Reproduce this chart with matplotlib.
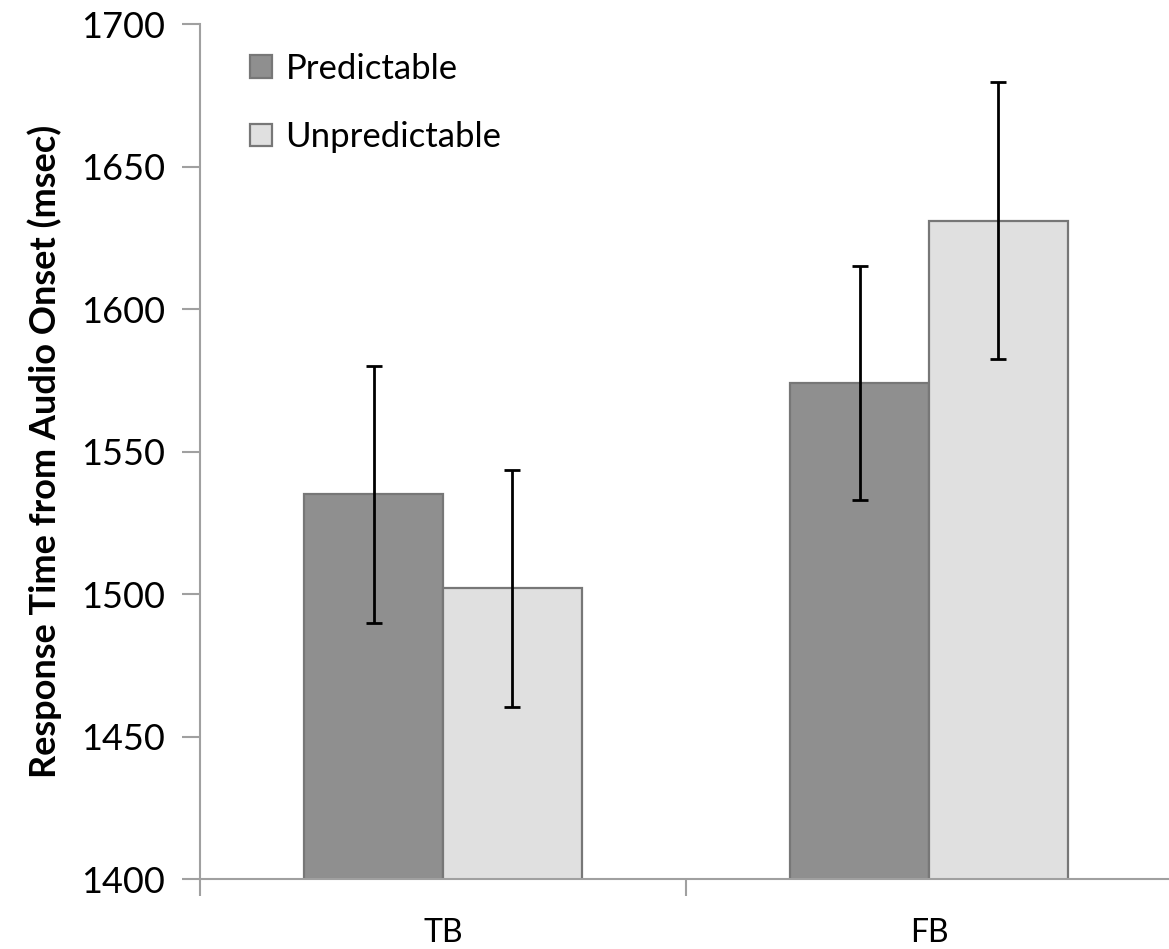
import matplotlib
matplotlib.use("Agg")
import matplotlib.pyplot as plt
import numpy as np
from matplotlib.patches import Patch

categories = ["TB", "FB"]
series_names = ["Predictable", "Unpredictable"]
predictable = [1535, 1574]
unpredictable = [1502, 1631]
predictable_err = [45, 41]
unpredictable_err = [41.5, 48.5]
yticks = [1400, 1450, 1500, 1550, 1600, 1650, 1700]

plt.rcParams['font.family'] = ['Lato', 'DejaVu Sans']

fig = plt.figure(figsize=(11.69, 9.49), dpi=100)
ax = fig.add_axes([200/1169, 70/949, 972/1169, 855/949])

x = np.arange(len(categories))
w = 0.286
c_pred = "#8f8f8f"
c_unpred = "#e0e0e0"
edge = "#777777"
ax.bar(x - w/2, predictable, w, color=c_pred, edgecolor=edge, linewidth=1.6, zorder=2)
ax.bar(x + w/2, unpredictable, w, color=c_unpred, edgecolor=edge, linewidth=1.6, zorder=2)
ax.errorbar(x - w/2, predictable, yerr=predictable_err, fmt='none', ecolor='black',
            elinewidth=2.0, capsize=6, capthick=2.0, zorder=3)
ax.errorbar(x + w/2, unpredictable, yerr=unpredictable_err, fmt='none', ecolor='black',
            elinewidth=2.0, capsize=6, capthick=2.0, zorder=3)

ax.set_ylim(1400, 1700)
ax.set_xlim(-0.5, 1.5)
ax.set_yticks(yticks)
ax.set_yticklabels([str(v) for v in yticks], fontsize=26)

ax.set_xticks([-0.5, 0.5, 1.5])
ax.set_xticklabels([])
ax.set_xticks(x, minor=True)
ax.set_xticklabels(categories, minor=True, fontsize=23)
ax.tick_params(axis='x', which='minor', length=0, pad=28)
ax.tick_params(axis='x', which='major', length=12, width=1.5, color='#a0a0a0')
ax.tick_params(axis='y', length=13, width=1.5, color='#a0a0a0', pad=12)

for s in ['top', 'right']:
    ax.spines[s].set_visible(False)
for s in ['left', 'bottom']:
    ax.spines[s].set_color('#a0a0a0')
    ax.spines[s].set_linewidth(1.5)

ax.set_ylabel("Response Time from Audio Onset (msec)", fontsize=26, fontweight='bold', labelpad=14)

handles = [Patch(facecolor=c_pred, edgecolor=edge, linewidth=1.6),
           Patch(facecolor=c_unpred, edgecolor=edge, linewidth=1.6)]
ax.legend(handles, series_names, loc='upper left', bbox_to_anchor=(0.0195, 1.003),
          frameon=False, fontsize=25, handlelength=0.62, handleheight=0.62,
          handletextpad=0.4, labelspacing=1.05)

fig.savefig("out.png", dpi=100)
